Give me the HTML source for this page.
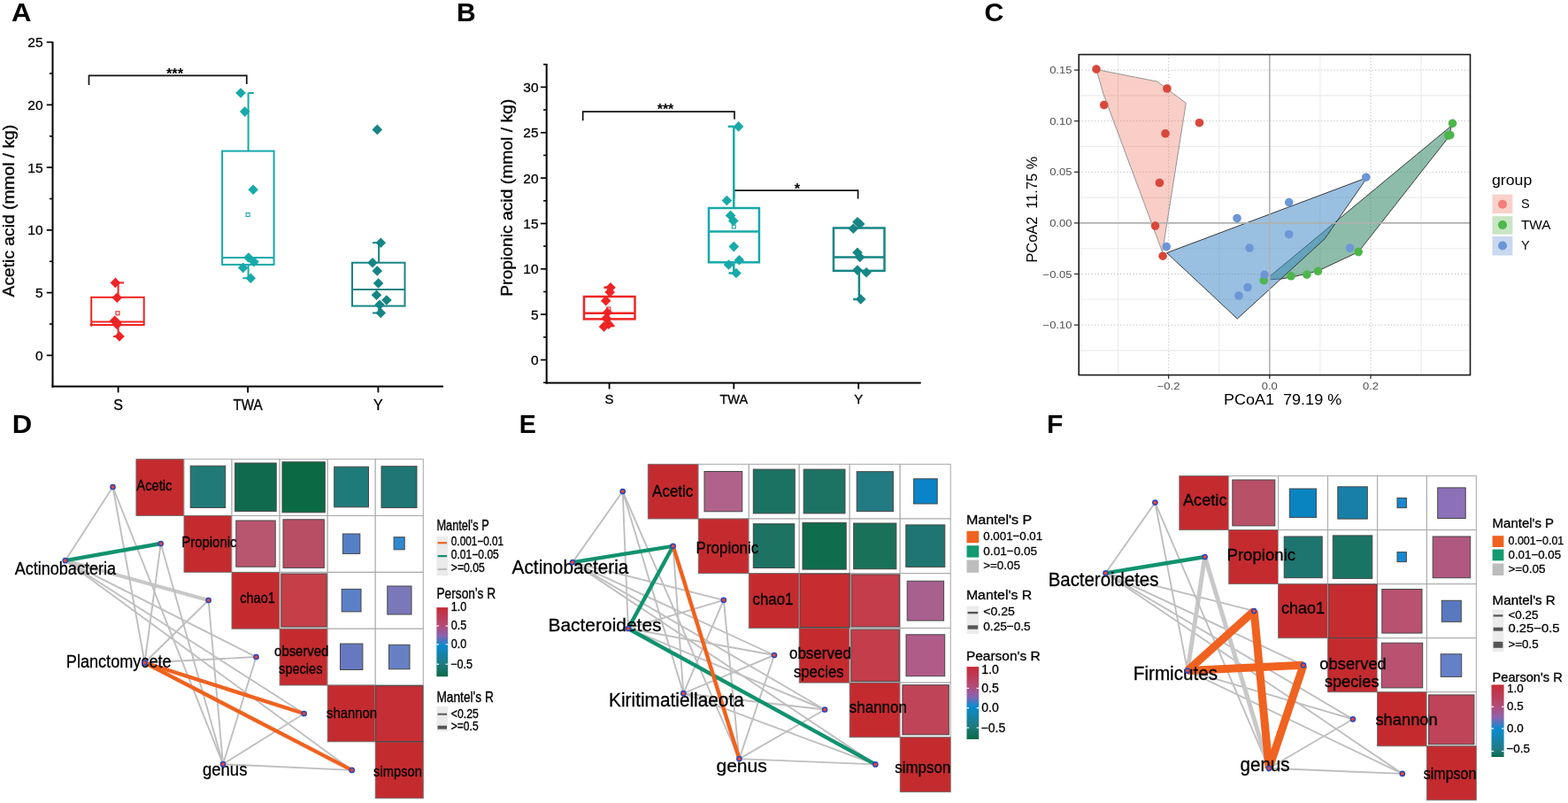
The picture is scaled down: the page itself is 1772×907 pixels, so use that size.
<!DOCTYPE html>
<html><head><meta charset="utf-8"><title>Figure</title>
<style>
html,body{margin:0;padding:0;background:#fff;}
svg{display:block;}
text{font-family:"Liberation Sans", sans-serif;white-space:pre;stroke:#000;stroke-width:0.3px;}
</style></head><body>
<svg width="1772" height="907" viewBox="0 0 1772 907">
<rect width="1772" height="907" fill="#fff"/>
<text transform="translate(12.9,23.7)" font-weight="bold" style="stroke:none" font-size="29.7" textLength="22.5" lengthAdjust="spacingAndGlyphs">A</text>
<text transform="translate(515.9,23.5)" font-weight="bold" style="stroke:none" font-size="29.4" textLength="21.7" lengthAdjust="spacingAndGlyphs">B</text>
<text transform="translate(1112.6,23.8)" font-weight="bold" style="stroke:none" font-size="30.4" textLength="21.8" lengthAdjust="spacingAndGlyphs">C</text>
<text transform="translate(13.8,489.4)" font-weight="bold" style="stroke:none" font-size="29.7" textLength="22.5" lengthAdjust="spacingAndGlyphs">D</text>
<text transform="translate(586.8,489.4)" font-weight="bold" style="stroke:none" font-size="29.7" textLength="19.1" lengthAdjust="spacingAndGlyphs">E</text>
<text transform="translate(1183,489.4)" font-weight="bold" style="stroke:none" font-size="29.7" textLength="18.3" lengthAdjust="spacingAndGlyphs">F</text>
<line x1="59.5" y1="47" x2="59.5" y2="437.4" stroke="#000" stroke-width="2"/>
<line x1="58.5" y1="436.4" x2="501" y2="436.4" stroke="#000" stroke-width="2"/>
<line x1="52.7" y1="401.4" x2="59.5" y2="401.4" stroke="#000" stroke-width="1.7"/>
<text transform="translate(48.6,406.8)" text-anchor="end" font-size="15.5">0</text>
<line x1="52.7" y1="330.6" x2="59.5" y2="330.6" stroke="#000" stroke-width="1.7"/>
<text transform="translate(48.6,336)" text-anchor="end" font-size="15.5">5</text>
<line x1="52.7" y1="259.9" x2="59.5" y2="259.9" stroke="#000" stroke-width="1.7"/>
<text transform="translate(48.6,265.3)" text-anchor="end" font-size="15.5">10</text>
<line x1="52.7" y1="189.1" x2="59.5" y2="189.1" stroke="#000" stroke-width="1.7"/>
<text transform="translate(48.6,194.5)" text-anchor="end" font-size="15.5">15</text>
<line x1="52.7" y1="118.4" x2="59.5" y2="118.4" stroke="#000" stroke-width="1.7"/>
<text transform="translate(48.6,123.8)" text-anchor="end" font-size="15.5">20</text>
<line x1="52.7" y1="47.6" x2="59.5" y2="47.6" stroke="#000" stroke-width="1.7"/>
<text transform="translate(48.6,53)" text-anchor="end" font-size="15.5">25</text>
<line x1="55.9" y1="366" x2="59.5" y2="366" stroke="#000" stroke-width="1.6"/>
<line x1="55.9" y1="295.3" x2="59.5" y2="295.3" stroke="#000" stroke-width="1.6"/>
<line x1="55.9" y1="224.5" x2="59.5" y2="224.5" stroke="#000" stroke-width="1.6"/>
<line x1="55.9" y1="153.8" x2="59.5" y2="153.8" stroke="#000" stroke-width="1.6"/>
<line x1="55.9" y1="83" x2="59.5" y2="83" stroke="#000" stroke-width="1.6"/>
<line x1="133.6" y1="436.4" x2="133.6" y2="443.4" stroke="#000" stroke-width="1.8"/>
<text transform="translate(133.6,462.7)" text-anchor="middle" font-size="16">S</text>
<line x1="280.1" y1="436.4" x2="280.1" y2="443.4" stroke="#000" stroke-width="1.8"/>
<text transform="translate(280.1,462.7)" text-anchor="middle" font-size="16" textLength="33.2" lengthAdjust="spacingAndGlyphs">TWA</text>
<line x1="427.4" y1="436.4" x2="427.4" y2="443.4" stroke="#000" stroke-width="1.8"/>
<text transform="translate(427.4,462.7)" text-anchor="middle" font-size="16">Y</text>
<text transform="translate(15.6,335.4) rotate(-90)" font-size="17.6" textLength="194.6" lengthAdjust="spacingAndGlyphs">Acetic acid (mmol / kg)</text>
<path d="M100.5 96V85.3H278.8V95" fill="none" stroke="#111" stroke-width="1.7"/>
<text transform="translate(197.5,89.2)" text-anchor="middle" font-weight="bold" style="stroke:none" font-size="16.5" textLength="19.2" lengthAdjust="spacingAndGlyphs">***</text>
<rect x="103.2" y="335.8" width="59.5" height="31.2" fill="none" stroke="#ef2424" stroke-width="2"/>
<line x1="103.2" y1="363.6" x2="162.7" y2="363.6" stroke="#ef2424" stroke-width="2"/>
<line x1="133.6" y1="335.8" x2="133.6" y2="319.4" stroke="#ef2424" stroke-width="2"/>
<line x1="133.6" y1="367" x2="133.6" y2="380" stroke="#ef2424" stroke-width="2"/>
<line x1="133.6" y1="319.4" x2="140" y2="319.4" stroke="#ef2424" stroke-width="2"/>
<line x1="128" y1="380" x2="133.6" y2="380" stroke="#ef2424" stroke-width="2"/>
<path d="M130.4 313.6L136.2 319.4L130.4 325.2L124.6 319.4Z" fill="#ef2424"/>
<path d="M132.3 330.5L138.1 336.3L132.3 342.1L126.5 336.3Z" fill="#ef2424"/>
<path d="M129.6 356.5L135.4 362.3L129.6 368.1L123.8 362.3Z" fill="#ef2424"/>
<path d="M131.6 358.4L137.4 364.2L131.6 370L125.8 364.2Z" fill="#ef2424"/>
<path d="M132.3 360.6L138.1 366.4L132.3 372.2L126.5 366.4Z" fill="#ef2424"/>
<path d="M135 374.2L140.8 380L135 385.8L129.2 380Z" fill="#ef2424"/>
<rect x="131" y="351.8" width="4" height="4" fill="none" stroke="#ef2424" stroke-width="1.1"/>
<circle cx="103.3" cy="367" r="1.8" fill="#ef2424"/>
<rect x="251.1" y="170.6" width="58.5" height="128.3" fill="none" stroke="#17a9a9" stroke-width="2"/>
<line x1="251.1" y1="291" x2="309.6" y2="291" stroke="#17a9a9" stroke-width="2"/>
<line x1="280.6" y1="170.6" x2="280.6" y2="105" stroke="#17a9a9" stroke-width="2"/>
<line x1="280.6" y1="298.9" x2="280.6" y2="314.2" stroke="#17a9a9" stroke-width="2"/>
<line x1="280.6" y1="105" x2="286.8" y2="105" stroke="#17a9a9" stroke-width="2"/>
<line x1="274.4" y1="314.2" x2="280.6" y2="314.2" stroke="#17a9a9" stroke-width="2"/>
<path d="M272 99.2L277.8 105L272 110.8L266.2 105Z" fill="#17a9a9"/>
<path d="M276.7 120.3L282.5 126.1L276.7 131.9L270.9 126.1Z" fill="#17a9a9"/>
<path d="M286.1 208.5L291.9 214.3L286.1 220.1L280.3 214.3Z" fill="#17a9a9"/>
<path d="M280.9 285.2L286.7 291L280.9 296.8L275.1 291Z" fill="#17a9a9"/>
<path d="M287 289.9L292.8 295.7L287 301.5L281.2 295.7Z" fill="#17a9a9"/>
<path d="M274.7 296.6L280.5 302.4L274.7 308.2L268.9 302.4Z" fill="#17a9a9"/>
<path d="M283.3 308.4L289.1 314.2L283.3 320L277.5 314.2Z" fill="#17a9a9"/>
<rect x="278.1" y="240.5" width="4" height="4" fill="none" stroke="#17a9a9" stroke-width="1.1"/>
<rect x="398" y="296.7" width="59.5" height="48.9" fill="none" stroke="#178585" stroke-width="2"/>
<line x1="398" y1="327.1" x2="457.5" y2="327.1" stroke="#178585" stroke-width="2"/>
<line x1="428.1" y1="296.7" x2="428.1" y2="274.2" stroke="#178585" stroke-width="2"/>
<line x1="428.1" y1="345.6" x2="428.1" y2="353.5" stroke="#178585" stroke-width="2"/>
<line x1="421" y1="274.2" x2="428.1" y2="274.2" stroke="#178585" stroke-width="2"/>
<line x1="421" y1="353.5" x2="428.1" y2="353.5" stroke="#178585" stroke-width="2"/>
<path d="M426.3 140.6L432.1 146.4L426.3 152.2L420.5 146.4Z" fill="#178585"/>
<path d="M430.3 268.4L436.1 274.2L430.3 280L424.5 274.2Z" fill="#178585"/>
<path d="M421 290.9L426.8 296.7L421 302.5L415.2 296.7Z" fill="#178585"/>
<path d="M426.3 300.2L432.1 306L426.3 311.8L420.5 306Z" fill="#178585"/>
<path d="M427.6 314.2L433.4 320L427.6 325.8L421.8 320Z" fill="#178585"/>
<path d="M425.5 327.4L431.3 333.2L425.5 339L419.7 333.2Z" fill="#178585"/>
<path d="M436.9 333.2L442.7 339L436.9 344.8L431.1 339Z" fill="#178585"/>
<path d="M429 338.5L434.8 344.3L429 350.1L423.2 344.3Z" fill="#178585"/>
<path d="M430.3 347.7L436.1 353.5L430.3 359.3L424.5 353.5Z" fill="#178585"/>
<line x1="617.7" y1="72" x2="617.7" y2="433.4" stroke="#000" stroke-width="2"/>
<line x1="616.7" y1="432.4" x2="1040.7" y2="432.4" stroke="#000" stroke-width="2"/>
<line x1="610.9" y1="406.5" x2="617.7" y2="406.5" stroke="#000" stroke-width="1.7"/>
<text transform="translate(608.6,411.9)" text-anchor="end" font-size="15.5">0</text>
<line x1="610.9" y1="355.1" x2="617.7" y2="355.1" stroke="#000" stroke-width="1.7"/>
<text transform="translate(608.6,360.5)" text-anchor="end" font-size="15.5">5</text>
<line x1="610.9" y1="303.8" x2="617.7" y2="303.8" stroke="#000" stroke-width="1.7"/>
<text transform="translate(608.6,309.2)" text-anchor="end" font-size="15.5">10</text>
<line x1="610.9" y1="252.5" x2="617.7" y2="252.5" stroke="#000" stroke-width="1.7"/>
<text transform="translate(608.6,257.9)" text-anchor="end" font-size="15.5">15</text>
<line x1="610.9" y1="201.1" x2="617.7" y2="201.1" stroke="#000" stroke-width="1.7"/>
<text transform="translate(608.6,206.5)" text-anchor="end" font-size="15.5">20</text>
<line x1="610.9" y1="149.8" x2="617.7" y2="149.8" stroke="#000" stroke-width="1.7"/>
<text transform="translate(608.6,155.2)" text-anchor="end" font-size="15.5">25</text>
<line x1="610.9" y1="98.4" x2="617.7" y2="98.4" stroke="#000" stroke-width="1.7"/>
<text transform="translate(608.6,103.8)" text-anchor="end" font-size="15.5">30</text>
<line x1="614.1" y1="432.2" x2="617.7" y2="432.2" stroke="#000" stroke-width="1.6"/>
<line x1="614.1" y1="380.8" x2="617.7" y2="380.8" stroke="#000" stroke-width="1.6"/>
<line x1="614.1" y1="329.5" x2="617.7" y2="329.5" stroke="#000" stroke-width="1.6"/>
<line x1="614.1" y1="278.1" x2="617.7" y2="278.1" stroke="#000" stroke-width="1.6"/>
<line x1="614.1" y1="226.8" x2="617.7" y2="226.8" stroke="#000" stroke-width="1.6"/>
<line x1="614.1" y1="175.4" x2="617.7" y2="175.4" stroke="#000" stroke-width="1.6"/>
<line x1="614.1" y1="124.1" x2="617.7" y2="124.1" stroke="#000" stroke-width="1.6"/>
<line x1="614.1" y1="72.7" x2="617.7" y2="72.7" stroke="#000" stroke-width="1.6"/>
<line x1="688.6" y1="432.4" x2="688.6" y2="439.4" stroke="#000" stroke-width="1.8"/>
<text transform="translate(688.6,456.1)" text-anchor="middle" font-size="15">S</text>
<line x1="829.3" y1="432.4" x2="829.3" y2="439.4" stroke="#000" stroke-width="1.8"/>
<text transform="translate(829.3,456.1)" text-anchor="middle" font-size="15" textLength="31.8" lengthAdjust="spacingAndGlyphs">TWA</text>
<line x1="970.2" y1="432.4" x2="970.2" y2="439.4" stroke="#000" stroke-width="1.8"/>
<text transform="translate(970.2,456.1)" text-anchor="middle" font-size="15">Y</text>
<text transform="translate(579,334.8) rotate(-90)" font-size="18.4" textLength="223" lengthAdjust="spacingAndGlyphs">Propionic acid (mmol / kg)</text>
<path d="M658.7 136.2V126.1H830V134.8" fill="none" stroke="#111" stroke-width="1.7"/>
<path d="M829.5 224.4V215.2H969.6V224.4" fill="none" stroke="#111" stroke-width="1.7"/>
<text transform="translate(752,129.2)" text-anchor="middle" font-weight="bold" style="stroke:none" font-size="16.5" textLength="18.7" lengthAdjust="spacingAndGlyphs">***</text>
<text transform="translate(901,218.5)" text-anchor="middle" font-weight="bold" style="stroke:none" font-size="16.5">*</text>
<rect x="660" y="335" width="57.5" height="25.4" fill="none" stroke="#ef2424" stroke-width="2.5"/>
<line x1="660" y1="353.8" x2="717.5" y2="353.8" stroke="#ef2424" stroke-width="2.5"/>
<line x1="688.6" y1="335" x2="688.6" y2="324.7" stroke="#ef2424" stroke-width="2.5"/>
<line x1="688.6" y1="360.4" x2="688.6" y2="368.1" stroke="#ef2424" stroke-width="2.5"/>
<line x1="682.5" y1="324.7" x2="688.6" y2="324.7" stroke="#ef2424" stroke-width="2.5"/>
<line x1="688.6" y1="368.1" x2="694.5" y2="368.1" stroke="#ef2424" stroke-width="2.5"/>
<path d="M690 318.9L695.8 324.7L690 330.5L684.2 324.7Z" fill="#ef2424"/>
<path d="M689.2 324.2L695 330L689.2 335.8L683.4 330Z" fill="#ef2424"/>
<path d="M684.7 334L690.5 339.8L684.7 345.6L678.9 339.8Z" fill="#ef2424"/>
<path d="M686.5 347.2L692.3 353L686.5 358.8L680.7 353Z" fill="#ef2424"/>
<path d="M685.2 353.8L691 359.6L685.2 365.4L679.4 359.6Z" fill="#ef2424"/>
<path d="M687.8 360.4L693.6 366.2L687.8 372L682 366.2Z" fill="#ef2424"/>
<path d="M682.5 363.1L688.3 368.9L682.5 374.7L676.7 368.9Z" fill="#ef2424"/>
<rect x="685.8" y="347" width="4" height="4" fill="none" stroke="#ef2424" stroke-width="1.1"/>
<rect x="801" y="235" width="56.9" height="61.3" fill="none" stroke="#17a9a9" stroke-width="2.5"/>
<line x1="801" y1="261.4" x2="857.9" y2="261.4" stroke="#17a9a9" stroke-width="2.5"/>
<line x1="829.3" y1="235" x2="829.3" y2="142.9" stroke="#17a9a9" stroke-width="2.5"/>
<line x1="829.3" y1="296.3" x2="829.3" y2="308.5" stroke="#17a9a9" stroke-width="2.5"/>
<line x1="822.7" y1="142.9" x2="829.3" y2="142.9" stroke="#17a9a9" stroke-width="2.5"/>
<line x1="823.5" y1="308.5" x2="830" y2="308.5" stroke="#17a9a9" stroke-width="2.5"/>
<path d="M834.6 137.1L840.4 142.9L834.6 148.7L828.8 142.9Z" fill="#17a9a9"/>
<path d="M821.4 220.7L827.2 226.5L821.4 232.3L815.6 226.5Z" fill="#17a9a9"/>
<path d="M825.6 237.6L831.4 243.4L825.6 249.2L819.8 243.4Z" fill="#17a9a9"/>
<path d="M828.8 243.7L834.6 249.5L828.8 255.3L823 249.5Z" fill="#17a9a9"/>
<path d="M829.3 272.8L835.1 278.6L829.3 284.4L823.5 278.6Z" fill="#17a9a9"/>
<path d="M835.4 287.9L841.2 293.7L835.4 299.5L829.6 293.7Z" fill="#17a9a9"/>
<path d="M823.5 293.2L829.3 299L823.5 304.8L817.7 299Z" fill="#17a9a9"/>
<path d="M832 302.7L837.8 308.5L832 314.3L826.2 308.5Z" fill="#17a9a9"/>
<rect x="827.3" y="254.1" width="4" height="4" fill="none" stroke="#17a9a9" stroke-width="1.1"/>
<rect x="942" y="257.5" width="57.5" height="48.4" fill="none" stroke="#178585" stroke-width="2.5"/>
<line x1="942" y1="290.5" x2="999.5" y2="290.5" stroke="#178585" stroke-width="2.5"/>
<line x1="970.9" y1="257.5" x2="970.9" y2="250.8" stroke="#178585" stroke-width="2.5"/>
<line x1="970.9" y1="305.9" x2="970.9" y2="338" stroke="#178585" stroke-width="2.5"/>
<line x1="964.2" y1="338" x2="970.9" y2="338" stroke="#178585" stroke-width="2.5"/>
<path d="M969 245L974.8 250.8L969 256.6L963.2 250.8Z" fill="#178585"/>
<path d="M971.7 247.2L977.5 253L971.7 258.8L965.9 253Z" fill="#178585"/>
<path d="M964.3 252.4L970.1 258.2L964.3 264L958.5 258.2Z" fill="#178585"/>
<path d="M969 279.4L974.8 285.2L969 291L963.2 285.2Z" fill="#178585"/>
<path d="M971.7 284.7L977.5 290.5L971.7 296.3L965.9 290.5Z" fill="#178585"/>
<path d="M969 299.3L974.8 305.1L969 310.9L963.2 305.1Z" fill="#178585"/>
<path d="M979.1 301.9L984.9 307.7L979.1 313.5L973.3 307.7Z" fill="#178585"/>
<path d="M972.7 332.2L978.5 338L972.7 343.8L966.9 338Z" fill="#178585"/>
<line x1="1263.5" y1="61.6" x2="1263.5" y2="423.6" stroke="#ebebeb" stroke-width="1.1"/>
<line x1="1377.8" y1="61.6" x2="1377.8" y2="423.6" stroke="#ebebeb" stroke-width="1.1"/>
<line x1="1491.9" y1="61.6" x2="1491.9" y2="423.6" stroke="#ebebeb" stroke-width="1.1"/>
<line x1="1606.1" y1="61.6" x2="1606.1" y2="423.6" stroke="#ebebeb" stroke-width="1.1"/>
<line x1="1219.2" y1="395.9" x2="1661.5" y2="395.9" stroke="#ebebeb" stroke-width="1.1"/>
<line x1="1219.2" y1="338.3" x2="1661.5" y2="338.3" stroke="#ebebeb" stroke-width="1.1"/>
<line x1="1219.2" y1="280.7" x2="1661.5" y2="280.7" stroke="#ebebeb" stroke-width="1.1"/>
<line x1="1219.2" y1="223.1" x2="1661.5" y2="223.1" stroke="#ebebeb" stroke-width="1.1"/>
<line x1="1219.2" y1="165.5" x2="1661.5" y2="165.5" stroke="#ebebeb" stroke-width="1.1"/>
<line x1="1219.2" y1="107.9" x2="1661.5" y2="107.9" stroke="#ebebeb" stroke-width="1.1"/>
<line x1="1320.6" y1="61.6" x2="1320.6" y2="423.6" stroke="#cdcdcd" stroke-width="1.3" stroke-dasharray="1.3 2.3"/>
<line x1="1549" y1="61.6" x2="1549" y2="423.6" stroke="#cdcdcd" stroke-width="1.3" stroke-dasharray="1.3 2.3"/>
<line x1="1219.2" y1="367.1" x2="1661.5" y2="367.1" stroke="#cdcdcd" stroke-width="1.3" stroke-dasharray="1.3 2.3"/>
<line x1="1219.2" y1="309.5" x2="1661.5" y2="309.5" stroke="#cdcdcd" stroke-width="1.3" stroke-dasharray="1.3 2.3"/>
<line x1="1219.2" y1="194.3" x2="1661.5" y2="194.3" stroke="#cdcdcd" stroke-width="1.3" stroke-dasharray="1.3 2.3"/>
<line x1="1219.2" y1="136.7" x2="1661.5" y2="136.7" stroke="#cdcdcd" stroke-width="1.3" stroke-dasharray="1.3 2.3"/>
<line x1="1219.2" y1="79.1" x2="1661.5" y2="79.1" stroke="#cdcdcd" stroke-width="1.3" stroke-dasharray="1.3 2.3"/>
<polygon points="1239,78.5 1307.8,92.1 1340.3,116.5 1313.6,284.5 1246.9,105.9" fill="rgba(236,105,86,0.33)" stroke="#8a8a8a" stroke-width="0.9" stroke-linejoin="round"/>
<polygon points="1640.7,141.7 1636.5,155.5 1535.1,284.6 1489.4,306 1464.1,312.1 1448.7,314.9 1435.5,315.8 1434.5,312.5" fill="rgba(40,130,95,0.53)" stroke="#3a3a3a" stroke-width="1" stroke-linejoin="round"/>
<polygon points="1318.6,285.6 1544.8,200.7 1497.2,269.7 1398.3,360" fill="rgba(70,140,200,0.55)" stroke="#3a3a3a" stroke-width="1" stroke-linejoin="round"/>
<line x1="1434.8" y1="61.6" x2="1434.8" y2="423.6" stroke="#b0b0b0" stroke-width="1.6"/>
<line x1="1219.2" y1="251.9" x2="1661.5" y2="251.9" stroke="#b0b0b0" stroke-width="1.6"/>
<circle cx="1239" cy="78.1" r="4.8" fill="#d9473a"/>
<circle cx="1247.7" cy="118.6" r="4.8" fill="#d9473a"/>
<circle cx="1318.9" cy="100" r="4.8" fill="#d9473a"/>
<circle cx="1355.4" cy="138.7" r="4.8" fill="#d9473a"/>
<circle cx="1317" cy="150.9" r="4.8" fill="#d9473a"/>
<circle cx="1310.4" cy="206.5" r="4.8" fill="#d9473a"/>
<circle cx="1305.5" cy="255.1" r="4.8" fill="#d9473a"/>
<circle cx="1314.1" cy="289.2" r="4.8" fill="#d9473a"/>
<circle cx="1641.5" cy="139.4" r="4.8" fill="#4db64b"/>
<circle cx="1636.7" cy="153" r="4.8" fill="#4db64b"/>
<circle cx="1638.8" cy="152.5" r="4.8" fill="#4db64b"/>
<circle cx="1535.2" cy="284.6" r="4.8" fill="#4db64b"/>
<circle cx="1489.4" cy="306.3" r="4.8" fill="#4db64b"/>
<circle cx="1476.9" cy="310.2" r="4.8" fill="#4db64b"/>
<circle cx="1459" cy="311.8" r="4.8" fill="#4db64b"/>
<circle cx="1428.3" cy="316.7" r="4.8" fill="#4db64b"/>
<circle cx="1318.2" cy="278.6" r="4.8" fill="#6c96d6"/>
<circle cx="1398" cy="246.5" r="4.8" fill="#6c96d6"/>
<circle cx="1412.1" cy="280.1" r="4.8" fill="#6c96d6"/>
<circle cx="1456.7" cy="228.6" r="4.8" fill="#6c96d6"/>
<circle cx="1456.7" cy="264.7" r="4.8" fill="#6c96d6"/>
<circle cx="1429" cy="310.3" r="4.8" fill="#6c96d6"/>
<circle cx="1410" cy="324.5" r="4.8" fill="#6c96d6"/>
<circle cx="1399.9" cy="334" r="4.8" fill="#6c96d6"/>
<circle cx="1525.5" cy="280.1" r="4.8" fill="#6c96d6"/>
<circle cx="1543.8" cy="200.2" r="4.8" fill="#6c96d6"/>
<rect x="1219.2" y="61.6" width="442.3" height="362" fill="none" stroke="#1a1a1a" stroke-width="1.6"/>
<line x1="1214" y1="79.1" x2="1219.2" y2="79.1" stroke="#333" stroke-width="1.3"/>
<text transform="translate(1211.4,83.2) scale(1.120,1.000)" text-anchor="end" style="fill:#4d4d4d;stroke:none" font-size="11.6">0.15</text>
<line x1="1214" y1="136.7" x2="1219.2" y2="136.7" stroke="#333" stroke-width="1.3"/>
<text transform="translate(1211.4,140.8) scale(1.120,1.000)" text-anchor="end" style="fill:#4d4d4d;stroke:none" font-size="11.6">0.10</text>
<line x1="1214" y1="194.3" x2="1219.2" y2="194.3" stroke="#333" stroke-width="1.3"/>
<text transform="translate(1211.4,198.4) scale(1.120,1.000)" text-anchor="end" style="fill:#4d4d4d;stroke:none" font-size="11.6">0.05</text>
<line x1="1214" y1="251.9" x2="1219.2" y2="251.9" stroke="#333" stroke-width="1.3"/>
<text transform="translate(1211.4,256) scale(1.120,1.000)" text-anchor="end" style="fill:#4d4d4d;stroke:none" font-size="11.6">0.00</text>
<line x1="1214" y1="309.5" x2="1219.2" y2="309.5" stroke="#333" stroke-width="1.3"/>
<text transform="translate(1211.4,313.6) scale(1.120,1.000)" text-anchor="end" style="fill:#4d4d4d;stroke:none" font-size="11.6">−0.05</text>
<line x1="1214" y1="367.1" x2="1219.2" y2="367.1" stroke="#333" stroke-width="1.3"/>
<text transform="translate(1211.4,371.2) scale(1.120,1.000)" text-anchor="end" style="fill:#4d4d4d;stroke:none" font-size="11.6">−0.10</text>
<line x1="1320.6" y1="423.6" x2="1320.6" y2="427.8" stroke="#333" stroke-width="1.3"/>
<text transform="translate(1320.6,439.8) scale(1.120,1.000)" text-anchor="middle" style="fill:#4d4d4d;stroke:none" font-size="11.6">−0.2</text>
<line x1="1434.8" y1="423.6" x2="1434.8" y2="427.8" stroke="#333" stroke-width="1.3"/>
<text transform="translate(1434.8,439.8) scale(1.120,1.000)" text-anchor="middle" style="fill:#4d4d4d;stroke:none" font-size="11.6">0.0</text>
<line x1="1549" y1="423.6" x2="1549" y2="427.8" stroke="#333" stroke-width="1.3"/>
<text transform="translate(1549,439.8) scale(1.120,1.000)" text-anchor="middle" style="fill:#4d4d4d;stroke:none" font-size="11.6">0.2</text>
<text transform="translate(1382.9,456.6)" style="stroke:none" font-size="16.4" textLength="133.3" lengthAdjust="spacingAndGlyphs">PCoA1  79.19 %</text>
<text transform="translate(1172.3,296.6) rotate(-90)" style="stroke:none" font-size="16.6" textLength="119.8" lengthAdjust="spacingAndGlyphs">PCoA2  11.75 %</text>
<text transform="translate(1685.9,208.8)" style="stroke:none" font-size="17.3" textLength="45.4" lengthAdjust="spacingAndGlyphs">group</text>
<rect x="1686.5" y="219.7" width="22.9" height="21.4" fill="#f9d0ca"/>
<circle cx="1698" cy="230.7" r="5" fill="#ef7f78"/>
<text transform="translate(1718.9,234.9)" style="stroke:none" font-size="14.6">S</text>
<rect x="1686.5" y="244.2" width="22.9" height="20.5" fill="#c8e5c4"/>
<circle cx="1698" cy="254.1" r="5" fill="#4db94d"/>
<text transform="translate(1718.9,258.7)" style="stroke:none" font-size="14.6" textLength="33.6" lengthAdjust="spacingAndGlyphs">TWA</text>
<rect x="1686.5" y="267" width="22.9" height="21.5" fill="#c9d7ef"/>
<circle cx="1698" cy="277.5" r="5" fill="#6b97d7"/>
<text transform="translate(1718.9,281.9)" style="stroke:none" font-size="14.6">Y</text>
<rect x="153.9" y="518.7" width="54.1" height="63.8" fill="#c42b2f" stroke="#6e6e6e" stroke-width="0.9"/>
<rect x="208" y="518.7" width="54.1" height="63.8" fill="#ffffff" stroke="#a6a6a6" stroke-width="1"/>
<rect x="262" y="518.7" width="54.1" height="63.8" fill="#ffffff" stroke="#a6a6a6" stroke-width="1"/>
<rect x="316.1" y="518.7" width="54.1" height="63.8" fill="#ffffff" stroke="#a6a6a6" stroke-width="1"/>
<rect x="370.2" y="518.7" width="54.1" height="63.8" fill="#ffffff" stroke="#a6a6a6" stroke-width="1"/>
<rect x="424.2" y="518.7" width="54.1" height="63.8" fill="#ffffff" stroke="#a6a6a6" stroke-width="1"/>
<rect x="208" y="582.5" width="54.1" height="63.8" fill="#c42b2f" stroke="#6e6e6e" stroke-width="0.9"/>
<rect x="262" y="582.5" width="54.1" height="63.8" fill="#ffffff" stroke="#a6a6a6" stroke-width="1"/>
<rect x="316.1" y="582.5" width="54.1" height="63.8" fill="#ffffff" stroke="#a6a6a6" stroke-width="1"/>
<rect x="370.2" y="582.5" width="54.1" height="63.8" fill="#ffffff" stroke="#a6a6a6" stroke-width="1"/>
<rect x="424.2" y="582.5" width="54.1" height="63.8" fill="#ffffff" stroke="#a6a6a6" stroke-width="1"/>
<rect x="262" y="646.4" width="54.1" height="63.8" fill="#c42b2f" stroke="#6e6e6e" stroke-width="0.9"/>
<rect x="316.1" y="646.4" width="54.1" height="63.8" fill="#ffffff" stroke="#a6a6a6" stroke-width="1"/>
<rect x="370.2" y="646.4" width="54.1" height="63.8" fill="#ffffff" stroke="#a6a6a6" stroke-width="1"/>
<rect x="424.2" y="646.4" width="54.1" height="63.8" fill="#ffffff" stroke="#a6a6a6" stroke-width="1"/>
<rect x="316.1" y="710.2" width="54.1" height="63.8" fill="#c42b2f" stroke="#6e6e6e" stroke-width="0.9"/>
<rect x="370.2" y="710.2" width="54.1" height="63.8" fill="#ffffff" stroke="#a6a6a6" stroke-width="1"/>
<rect x="424.2" y="710.2" width="54.1" height="63.8" fill="#ffffff" stroke="#a6a6a6" stroke-width="1"/>
<rect x="370.2" y="774" width="54.1" height="63.8" fill="#c42b2f" stroke="#6e6e6e" stroke-width="0.9"/>
<rect x="424.2" y="774" width="54.1" height="63.8" fill="#ffffff" stroke="#a6a6a6" stroke-width="1"/>
<rect x="424.2" y="837.9" width="54.1" height="63.8" fill="#c42b2f" stroke="#6e6e6e" stroke-width="0.9"/>
<rect x="215.2" y="526.2" width="39.5" height="47.3" fill="#217a78" stroke="#474747" stroke-width="1"/>
<rect x="265.6" y="523" width="46.6" height="54.6" fill="#106b4e" stroke="#474747" stroke-width="1"/>
<rect x="319" y="521.8" width="48.3" height="57" fill="#0b6a43" stroke="#474747" stroke-width="1"/>
<rect x="377.7" y="527.2" width="38.8" height="45.6" fill="#1f7a7a" stroke="#474747" stroke-width="1"/>
<rect x="431" y="526.7" width="40" height="46.8" fill="#1f7674" stroke="#474747" stroke-width="1"/>
<rect x="266.8" y="588" width="44.4" height="52.2" fill="#b9566f" stroke="#474747" stroke-width="1"/>
<rect x="320" y="586.8" width="46.3" height="54.6" fill="#b84e64" stroke="#474747" stroke-width="1"/>
<rect x="387.4" y="603" width="19.4" height="22.4" fill="#5580c8" stroke="#474747" stroke-width="1"/>
<rect x="445.1" y="606.7" width="12.1" height="14.1" fill="#2e88d0" stroke="#474747" stroke-width="1"/>
<rect x="317.8" y="648" width="51.4" height="60.1" fill="#c63e48" stroke="#474747" stroke-width="1"/>
<rect x="386.2" y="665.4" width="21.8" height="25.5" fill="#5a80c8" stroke="#474747" stroke-width="1"/>
<rect x="437.8" y="662" width="27.2" height="32" fill="#7a78b8" stroke="#474747" stroke-width="1"/>
<rect x="384.5" y="727.1" width="25.4" height="29.4" fill="#6679c0" stroke="#474747" stroke-width="1"/>
<rect x="439.5" y="728.3" width="23.5" height="27.5" fill="#6680c4" stroke="#474747" stroke-width="1"/>
<rect x="424.6" y="774.6" width="53.3" height="63" fill="#c42e34" stroke="#474747" stroke-width="1"/>
<text transform="translate(154.3,553.8)" font-size="16.6" textLength="40.2" lengthAdjust="spacingAndGlyphs">Acetic</text>
<text transform="translate(205.2,617.6)" font-size="16.6" textLength="62.3" lengthAdjust="spacingAndGlyphs">Propionic</text>
<text transform="translate(271.3,681.4)" font-size="16.6" textLength="39.5" lengthAdjust="spacingAndGlyphs">chao1</text>
<text transform="translate(310.1,741.4)" font-size="16.6" textLength="61.3" lengthAdjust="spacingAndGlyphs">observed</text>
<text transform="translate(315.1,761.3)" font-size="16.6" textLength="49.4" lengthAdjust="spacingAndGlyphs">species</text>
<text transform="translate(369,810.8)" font-size="16.6" textLength="57" lengthAdjust="spacingAndGlyphs">shannon</text>
<text transform="translate(422.1,877.3)" font-size="16.6" textLength="54.8" lengthAdjust="spacingAndGlyphs">simpson</text>
<line x1="73.8" y1="633.2" x2="127.5" y2="550" stroke="#bfbfbf" stroke-width="1.9" stroke-linecap="round"/>
<line x1="73.8" y1="633.2" x2="235.6" y2="678" stroke="#c8c8c8" stroke-width="4" stroke-linecap="round"/>
<line x1="73.8" y1="633.2" x2="289.5" y2="742" stroke="#bfbfbf" stroke-width="1.9" stroke-linecap="round"/>
<line x1="73.8" y1="633.2" x2="343.6" y2="806" stroke="#bfbfbf" stroke-width="1.9" stroke-linecap="round"/>
<line x1="73.8" y1="633.2" x2="397.7" y2="869.9" stroke="#bfbfbf" stroke-width="1.9" stroke-linecap="round"/>
<line x1="163.5" y1="748.5" x2="127.5" y2="550" stroke="#bfbfbf" stroke-width="1.9" stroke-linecap="round"/>
<line x1="163.5" y1="748.5" x2="181.7" y2="614" stroke="#bfbfbf" stroke-width="1.9" stroke-linecap="round"/>
<line x1="163.5" y1="748.5" x2="235.6" y2="678" stroke="#bfbfbf" stroke-width="1.9" stroke-linecap="round"/>
<line x1="163.5" y1="748.5" x2="289.5" y2="742" stroke="#bfbfbf" stroke-width="1.9" stroke-linecap="round"/>
<line x1="252" y1="863.2" x2="127.5" y2="550" stroke="#bfbfbf" stroke-width="1.9" stroke-linecap="round"/>
<line x1="252" y1="863.2" x2="181.7" y2="614" stroke="#bfbfbf" stroke-width="1.9" stroke-linecap="round"/>
<line x1="252" y1="863.2" x2="235.6" y2="678" stroke="#bfbfbf" stroke-width="1.9" stroke-linecap="round"/>
<line x1="252" y1="863.2" x2="289.5" y2="742" stroke="#bfbfbf" stroke-width="1.9" stroke-linecap="round"/>
<line x1="252" y1="863.2" x2="343.6" y2="806" stroke="#bfbfbf" stroke-width="1.9" stroke-linecap="round"/>
<line x1="252" y1="863.2" x2="397.7" y2="869.9" stroke="#bfbfbf" stroke-width="1.9" stroke-linecap="round"/>
<line x1="73.8" y1="633.2" x2="181.7" y2="614" stroke="#11926f" stroke-width="4.4" stroke-linecap="butt"/>
<line x1="163.5" y1="748.5" x2="343.6" y2="806" stroke="#f0621f" stroke-width="4.4" stroke-linecap="butt"/>
<line x1="163.5" y1="748.5" x2="397.7" y2="869.9" stroke="#f0621f" stroke-width="4.4" stroke-linecap="butt"/>
<text transform="translate(16.7,648.5)" font-size="20.5" textLength="114.3" lengthAdjust="spacingAndGlyphs">Actinobacteria</text>
<text transform="translate(74.8,753.5)" font-size="20.5" textLength="118.8" lengthAdjust="spacingAndGlyphs">Planctomycete</text>
<text transform="translate(229,876.1)" font-size="20.2" textLength="50.4" lengthAdjust="spacingAndGlyphs">genus</text>
<circle cx="73.8" cy="633.2" r="2.6" fill="#ef4532" stroke="#2747bd" stroke-width="1.5"/>
<circle cx="163.5" cy="748.5" r="2.6" fill="#ef4532" stroke="#2747bd" stroke-width="1.5"/>
<circle cx="252" cy="863.2" r="2.6" fill="#ef4532" stroke="#2747bd" stroke-width="1.5"/>
<circle cx="127.5" cy="550" r="2.6" fill="#ef4532" stroke="#2747bd" stroke-width="1.5"/>
<circle cx="181.7" cy="614" r="2.6" fill="#ef4532" stroke="#2747bd" stroke-width="1.5"/>
<circle cx="235.6" cy="678" r="2.6" fill="#ef4532" stroke="#2747bd" stroke-width="1.5"/>
<circle cx="289.5" cy="742" r="2.6" fill="#ef4532" stroke="#2747bd" stroke-width="1.5"/>
<circle cx="343.6" cy="806" r="2.6" fill="#ef4532" stroke="#2747bd" stroke-width="1.5"/>
<circle cx="397.7" cy="869.9" r="2.6" fill="#ef4532" stroke="#2747bd" stroke-width="1.5"/>
<rect x="732.3" y="524.3" width="57" height="61.7" fill="#c42b2f" stroke="#6e6e6e" stroke-width="0.9"/>
<rect x="789.3" y="524.3" width="57" height="61.7" fill="#ffffff" stroke="#a6a6a6" stroke-width="1"/>
<rect x="846.3" y="524.3" width="57" height="61.7" fill="#ffffff" stroke="#a6a6a6" stroke-width="1"/>
<rect x="903.2" y="524.3" width="57" height="61.7" fill="#ffffff" stroke="#a6a6a6" stroke-width="1"/>
<rect x="960.2" y="524.3" width="57" height="61.7" fill="#ffffff" stroke="#a6a6a6" stroke-width="1"/>
<rect x="1017.2" y="524.3" width="57" height="61.7" fill="#ffffff" stroke="#a6a6a6" stroke-width="1"/>
<rect x="789.3" y="586" width="57" height="61.7" fill="#c42b2f" stroke="#6e6e6e" stroke-width="0.9"/>
<rect x="846.3" y="586" width="57" height="61.7" fill="#ffffff" stroke="#a6a6a6" stroke-width="1"/>
<rect x="903.2" y="586" width="57" height="61.7" fill="#ffffff" stroke="#a6a6a6" stroke-width="1"/>
<rect x="960.2" y="586" width="57" height="61.7" fill="#ffffff" stroke="#a6a6a6" stroke-width="1"/>
<rect x="1017.2" y="586" width="57" height="61.7" fill="#ffffff" stroke="#a6a6a6" stroke-width="1"/>
<rect x="846.3" y="647.7" width="57" height="61.7" fill="#c42b2f" stroke="#6e6e6e" stroke-width="0.9"/>
<rect x="903.2" y="647.7" width="57" height="61.7" fill="#ffffff" stroke="#a6a6a6" stroke-width="1"/>
<rect x="960.2" y="647.7" width="57" height="61.7" fill="#ffffff" stroke="#a6a6a6" stroke-width="1"/>
<rect x="1017.2" y="647.7" width="57" height="61.7" fill="#ffffff" stroke="#a6a6a6" stroke-width="1"/>
<rect x="903.2" y="709.4" width="57" height="61.7" fill="#c42b2f" stroke="#6e6e6e" stroke-width="0.9"/>
<rect x="960.2" y="709.4" width="57" height="61.7" fill="#ffffff" stroke="#a6a6a6" stroke-width="1"/>
<rect x="1017.2" y="709.4" width="57" height="61.7" fill="#ffffff" stroke="#a6a6a6" stroke-width="1"/>
<rect x="960.2" y="771.1" width="57" height="61.7" fill="#c42b2f" stroke="#6e6e6e" stroke-width="0.9"/>
<rect x="1017.2" y="771.1" width="57" height="61.7" fill="#ffffff" stroke="#a6a6a6" stroke-width="1"/>
<rect x="1017.2" y="832.8" width="57" height="61.7" fill="#c42b2f" stroke="#6e6e6e" stroke-width="0.9"/>
<rect x="796" y="532.5" width="42.8" height="45.3" fill="#b0628a" stroke="#474747" stroke-width="1"/>
<rect x="851.3" y="530.1" width="47" height="49.8" fill="#1b7262" stroke="#474747" stroke-width="1"/>
<rect x="908.2" y="530.1" width="46.8" height="49.8" fill="#1d7363" stroke="#474747" stroke-width="1"/>
<rect x="968.2" y="532.7" width="41.2" height="44.9" fill="#227a82" stroke="#474747" stroke-width="1"/>
<rect x="1032.6" y="540.8" width="26.6" height="28.2" fill="#0a84c8" stroke="#474747" stroke-width="1"/>
<rect x="851.3" y="591.7" width="46.5" height="49.8" fill="#1d7262" stroke="#474747" stroke-width="1"/>
<rect x="907" y="590.3" width="49.2" height="52.8" fill="#0f6c4c" stroke="#474747" stroke-width="1"/>
<rect x="964.7" y="591" width="48.2" height="51.7" fill="#1a7159" stroke="#474747" stroke-width="1"/>
<rect x="1023.8" y="592.9" width="44" height="47.5" fill="#1f7572" stroke="#474747" stroke-width="1"/>
<rect x="904" y="648" width="56.2" height="60.5" fill="#c62c30" stroke="#474747" stroke-width="1"/>
<rect x="962" y="648.9" width="54.4" height="59.1" fill="#c43d4a" stroke="#474747" stroke-width="1"/>
<rect x="1025.2" y="656.3" width="41.4" height="44.7" fill="#a8608e" stroke="#474747" stroke-width="1"/>
<rect x="961.8" y="711" width="54.5" height="58.6" fill="#c43d4a" stroke="#474747" stroke-width="1"/>
<rect x="1024" y="716.8" width="43.7" height="46.9" fill="#b05c88" stroke="#474747" stroke-width="1"/>
<rect x="1019.9" y="773.7" width="52.4" height="56.2" fill="#c04458" stroke="#474747" stroke-width="1"/>
<text transform="translate(737.1,561)" font-size="18" textLength="46.2" lengthAdjust="spacingAndGlyphs">Acetic</text>
<text transform="translate(786.6,624.6)" font-size="18" textLength="70.7" lengthAdjust="spacingAndGlyphs">Propionic</text>
<text transform="translate(850.5,682.5)" font-size="18" textLength="45.9" lengthAdjust="spacingAndGlyphs">chao1</text>
<text transform="translate(891.9,743.8)" font-size="18" textLength="70.1" lengthAdjust="spacingAndGlyphs">observed</text>
<text transform="translate(896.9,764.6)" font-size="18" textLength="56.7" lengthAdjust="spacingAndGlyphs">species</text>
<text transform="translate(959.8,805.3)" font-size="18" textLength="65.1" lengthAdjust="spacingAndGlyphs">shannon</text>
<text transform="translate(1011.2,873)" font-size="18" textLength="63.2" lengthAdjust="spacingAndGlyphs">simpson</text>
<line x1="647.1" y1="635.1" x2="703.7" y2="555" stroke="#bfbfbf" stroke-width="1.9" stroke-linecap="round"/>
<line x1="647.1" y1="635.1" x2="817.8" y2="677.8" stroke="#bfbfbf" stroke-width="1.9" stroke-linecap="round"/>
<line x1="647.1" y1="635.1" x2="875" y2="740" stroke="#bfbfbf" stroke-width="1.9" stroke-linecap="round"/>
<line x1="647.1" y1="635.1" x2="932.1" y2="801.5" stroke="#bfbfbf" stroke-width="1.9" stroke-linecap="round"/>
<line x1="647.1" y1="635.1" x2="989.3" y2="863.4" stroke="#bfbfbf" stroke-width="1.9" stroke-linecap="round"/>
<line x1="709.9" y1="710" x2="703.7" y2="555" stroke="#bfbfbf" stroke-width="1.9" stroke-linecap="round"/>
<line x1="709.9" y1="710" x2="817.8" y2="677.8" stroke="#bfbfbf" stroke-width="1.9" stroke-linecap="round"/>
<line x1="709.9" y1="710" x2="875" y2="740" stroke="#bfbfbf" stroke-width="1.9" stroke-linecap="round"/>
<line x1="709.9" y1="710" x2="932.1" y2="801.5" stroke="#bfbfbf" stroke-width="1.9" stroke-linecap="round"/>
<line x1="772.3" y1="783.2" x2="703.7" y2="555" stroke="#bfbfbf" stroke-width="1.9" stroke-linecap="round"/>
<line x1="772.3" y1="783.2" x2="760.7" y2="616.8" stroke="#bfbfbf" stroke-width="1.9" stroke-linecap="round"/>
<line x1="772.3" y1="783.2" x2="817.8" y2="677.8" stroke="#bfbfbf" stroke-width="1.9" stroke-linecap="round"/>
<line x1="772.3" y1="783.2" x2="875" y2="740" stroke="#bfbfbf" stroke-width="1.9" stroke-linecap="round"/>
<line x1="772.3" y1="783.2" x2="932.1" y2="801.5" stroke="#bfbfbf" stroke-width="1.9" stroke-linecap="round"/>
<line x1="772.3" y1="783.2" x2="989.3" y2="863.4" stroke="#bfbfbf" stroke-width="1.9" stroke-linecap="round"/>
<line x1="835.4" y1="857.1" x2="703.7" y2="555" stroke="#bfbfbf" stroke-width="1.9" stroke-linecap="round"/>
<line x1="835.4" y1="857.1" x2="817.8" y2="677.8" stroke="#bfbfbf" stroke-width="1.9" stroke-linecap="round"/>
<line x1="835.4" y1="857.1" x2="875" y2="740" stroke="#bfbfbf" stroke-width="1.9" stroke-linecap="round"/>
<line x1="835.4" y1="857.1" x2="932.1" y2="801.5" stroke="#bfbfbf" stroke-width="1.9" stroke-linecap="round"/>
<line x1="835.4" y1="857.1" x2="989.3" y2="863.4" stroke="#bfbfbf" stroke-width="1.9" stroke-linecap="round"/>
<line x1="647.1" y1="635.1" x2="760.7" y2="616.8" stroke="#11926f" stroke-width="4.4" stroke-linecap="butt"/>
<line x1="709.9" y1="710" x2="760.7" y2="616.8" stroke="#11926f" stroke-width="4.4" stroke-linecap="butt"/>
<line x1="709.9" y1="710" x2="989.3" y2="863.4" stroke="#11926f" stroke-width="4.4" stroke-linecap="butt"/>
<line x1="835.4" y1="857.1" x2="760.7" y2="616.8" stroke="#f0621f" stroke-width="4.4" stroke-linecap="butt"/>
<text transform="translate(578.6,647.9)" font-size="21.3" textLength="131.8" lengthAdjust="spacingAndGlyphs">Actinobacteria</text>
<text transform="translate(619.4,712.7)" font-size="21" textLength="128.2" lengthAdjust="spacingAndGlyphs">Bacteroidetes</text>
<text transform="translate(688.1,798)" font-size="22.4" textLength="152.7" lengthAdjust="spacingAndGlyphs">Kiritimatiellaeota</text>
<text transform="translate(809.4,872.1)" font-size="21" textLength="57.5" lengthAdjust="spacingAndGlyphs">genus</text>
<circle cx="647.1" cy="635.1" r="2.6" fill="#ef4532" stroke="#2747bd" stroke-width="1.5"/>
<circle cx="709.9" cy="710" r="2.6" fill="#ef4532" stroke="#2747bd" stroke-width="1.5"/>
<circle cx="772.3" cy="783.2" r="2.6" fill="#ef4532" stroke="#2747bd" stroke-width="1.5"/>
<circle cx="835.4" cy="857.1" r="2.6" fill="#ef4532" stroke="#2747bd" stroke-width="1.5"/>
<circle cx="703.7" cy="555" r="2.6" fill="#ef4532" stroke="#2747bd" stroke-width="1.5"/>
<circle cx="760.7" cy="616.8" r="2.6" fill="#ef4532" stroke="#2747bd" stroke-width="1.5"/>
<circle cx="817.8" cy="677.8" r="2.6" fill="#ef4532" stroke="#2747bd" stroke-width="1.5"/>
<circle cx="875" cy="740" r="2.6" fill="#ef4532" stroke="#2747bd" stroke-width="1.5"/>
<circle cx="932.1" cy="801.5" r="2.6" fill="#ef4532" stroke="#2747bd" stroke-width="1.5"/>
<circle cx="989.3" cy="863.4" r="2.6" fill="#ef4532" stroke="#2747bd" stroke-width="1.5"/>
<rect x="1332.8" y="537.6" width="55.9" height="61" fill="#c42b2f" stroke="#6e6e6e" stroke-width="0.9"/>
<rect x="1388.7" y="537.6" width="55.9" height="61" fill="#ffffff" stroke="#a6a6a6" stroke-width="1"/>
<rect x="1444.6" y="537.6" width="55.9" height="61" fill="#ffffff" stroke="#a6a6a6" stroke-width="1"/>
<rect x="1500.6" y="537.6" width="55.9" height="61" fill="#ffffff" stroke="#a6a6a6" stroke-width="1"/>
<rect x="1556.5" y="537.6" width="55.9" height="61" fill="#ffffff" stroke="#a6a6a6" stroke-width="1"/>
<rect x="1612.4" y="537.6" width="55.9" height="61" fill="#ffffff" stroke="#a6a6a6" stroke-width="1"/>
<rect x="1388.7" y="598.6" width="55.9" height="61" fill="#c42b2f" stroke="#6e6e6e" stroke-width="0.9"/>
<rect x="1444.6" y="598.6" width="55.9" height="61" fill="#ffffff" stroke="#a6a6a6" stroke-width="1"/>
<rect x="1500.6" y="598.6" width="55.9" height="61" fill="#ffffff" stroke="#a6a6a6" stroke-width="1"/>
<rect x="1556.5" y="598.6" width="55.9" height="61" fill="#ffffff" stroke="#a6a6a6" stroke-width="1"/>
<rect x="1612.4" y="598.6" width="55.9" height="61" fill="#ffffff" stroke="#a6a6a6" stroke-width="1"/>
<rect x="1444.6" y="659.7" width="55.9" height="61" fill="#c42b2f" stroke="#6e6e6e" stroke-width="0.9"/>
<rect x="1500.6" y="659.7" width="55.9" height="61" fill="#ffffff" stroke="#a6a6a6" stroke-width="1"/>
<rect x="1556.5" y="659.7" width="55.9" height="61" fill="#ffffff" stroke="#a6a6a6" stroke-width="1"/>
<rect x="1612.4" y="659.7" width="55.9" height="61" fill="#ffffff" stroke="#a6a6a6" stroke-width="1"/>
<rect x="1500.6" y="720.7" width="55.9" height="61" fill="#c42b2f" stroke="#6e6e6e" stroke-width="0.9"/>
<rect x="1556.5" y="720.7" width="55.9" height="61" fill="#ffffff" stroke="#a6a6a6" stroke-width="1"/>
<rect x="1612.4" y="720.7" width="55.9" height="61" fill="#ffffff" stroke="#a6a6a6" stroke-width="1"/>
<rect x="1556.5" y="781.7" width="55.9" height="61" fill="#c42b2f" stroke="#6e6e6e" stroke-width="0.9"/>
<rect x="1612.4" y="781.7" width="55.9" height="61" fill="#ffffff" stroke="#a6a6a6" stroke-width="1"/>
<rect x="1612.4" y="842.8" width="55.9" height="61" fill="#c42b2f" stroke="#6e6e6e" stroke-width="0.9"/>
<rect x="1392.8" y="542" width="48" height="51.9" fill="#b85068" stroke="#474747" stroke-width="1"/>
<rect x="1457.3" y="552" width="30.2" height="32.4" fill="#0a84c0" stroke="#474747" stroke-width="1"/>
<rect x="1511.8" y="549.8" width="33.5" height="36.3" fill="#1880a8" stroke="#474747" stroke-width="1"/>
<rect x="1579" y="562.5" width="10.4" height="11.1" fill="#1888d0" stroke="#474747" stroke-width="1"/>
<rect x="1624.7" y="550.9" width="31.5" height="34.6" fill="#8c70b8" stroke="#474747" stroke-width="1"/>
<rect x="1451.2" y="606" width="43" height="46.7" fill="#1e7570" stroke="#474747" stroke-width="1"/>
<rect x="1506.3" y="604.9" width="44.5" height="48.5" fill="#1a7464" stroke="#474747" stroke-width="1"/>
<rect x="1579" y="623.6" width="10.4" height="11" fill="#1888d0" stroke="#474747" stroke-width="1"/>
<rect x="1619.2" y="606" width="42.5" height="46.7" fill="#b05880" stroke="#474747" stroke-width="1"/>
<rect x="1501.3" y="660" width="54.8" height="60.5" fill="#c52c30" stroke="#474747" stroke-width="1"/>
<rect x="1561.8" y="665.5" width="45.2" height="49.6" fill="#b85270" stroke="#474747" stroke-width="1"/>
<rect x="1629.3" y="678.3" width="22" height="24" fill="#5878c0" stroke="#474747" stroke-width="1"/>
<rect x="1561.3" y="726.2" width="46.4" height="50.7" fill="#b85270" stroke="#474747" stroke-width="1"/>
<rect x="1628.2" y="738.8" width="23.5" height="25.6" fill="#6480c8" stroke="#474747" stroke-width="1"/>
<rect x="1614.5" y="784.9" width="51.4" height="55.9" fill="#c04458" stroke="#474747" stroke-width="1"/>
<text transform="translate(1336.9,571.4)" font-size="18.8" textLength="49.6" lengthAdjust="spacingAndGlyphs">Acetic</text>
<text transform="translate(1386.5,632.9)" font-size="18.8" textLength="77.6" lengthAdjust="spacingAndGlyphs">Propionic</text>
<text transform="translate(1447.9,693)" font-size="18.8" textLength="49.2" lengthAdjust="spacingAndGlyphs">chao1</text>
<text transform="translate(1491.3,755.5)" font-size="18.8" textLength="75.5" lengthAdjust="spacingAndGlyphs">observed</text>
<text transform="translate(1496.9,776.4)" font-size="18.8" textLength="61.6" lengthAdjust="spacingAndGlyphs">species</text>
<text transform="translate(1554.4,818.7)" font-size="18.8" textLength="70.3" lengthAdjust="spacingAndGlyphs">shannon</text>
<text transform="translate(1608.8,879.6)" font-size="18.8" textLength="59.6" lengthAdjust="spacingAndGlyphs">simpson</text>
<line x1="1249.5" y1="647.3" x2="1305.4" y2="567.6" stroke="#bfbfbf" stroke-width="1.9" stroke-linecap="round"/>
<line x1="1249.5" y1="647.3" x2="1417.2" y2="690.1" stroke="#bfbfbf" stroke-width="1.9" stroke-linecap="round"/>
<line x1="1249.5" y1="647.3" x2="1473" y2="751.3" stroke="#bfbfbf" stroke-width="1.9" stroke-linecap="round"/>
<line x1="1249.5" y1="647.3" x2="1528.9" y2="812.3" stroke="#bfbfbf" stroke-width="1.9" stroke-linecap="round"/>
<line x1="1249.5" y1="647.3" x2="1584.8" y2="873.9" stroke="#bfbfbf" stroke-width="1.9" stroke-linecap="round"/>
<line x1="1342" y1="757.6" x2="1305.4" y2="567.6" stroke="#bfbfbf" stroke-width="1.9" stroke-linecap="round"/>
<line x1="1342" y1="757.6" x2="1361.6" y2="629" stroke="#c8c8c8" stroke-width="5" stroke-linecap="round"/>
<line x1="1342" y1="757.6" x2="1528.9" y2="812.3" stroke="#bfbfbf" stroke-width="1.9" stroke-linecap="round"/>
<line x1="1342" y1="757.6" x2="1584.8" y2="873.9" stroke="#bfbfbf" stroke-width="1.9" stroke-linecap="round"/>
<line x1="1434.1" y1="867.8" x2="1305.4" y2="567.6" stroke="#bfbfbf" stroke-width="1.9" stroke-linecap="round"/>
<line x1="1434.1" y1="867.8" x2="1361.6" y2="629" stroke="#c8c8c8" stroke-width="5" stroke-linecap="round"/>
<line x1="1434.1" y1="867.8" x2="1528.9" y2="812.3" stroke="#bfbfbf" stroke-width="1.9" stroke-linecap="round"/>
<line x1="1434.1" y1="867.8" x2="1584.8" y2="873.9" stroke="#bfbfbf" stroke-width="1.9" stroke-linecap="round"/>
<line x1="1249.5" y1="647.3" x2="1361.6" y2="629" stroke="#11926f" stroke-width="4.4" stroke-linecap="butt"/>
<line x1="1342" y1="757.6" x2="1417.2" y2="690.1" stroke="#f0621f" stroke-width="9" stroke-linecap="butt"/>
<line x1="1342" y1="757.6" x2="1473" y2="751.3" stroke="#f0621f" stroke-width="9" stroke-linecap="butt"/>
<line x1="1434.1" y1="867.8" x2="1417.2" y2="690.1" stroke="#f0621f" stroke-width="9" stroke-linecap="butt"/>
<line x1="1434.1" y1="867.8" x2="1473" y2="751.3" stroke="#f0621f" stroke-width="9" stroke-linecap="butt"/>
<text transform="translate(1184.7,662.1)" font-size="21.2" textLength="124.7" lengthAdjust="spacingAndGlyphs">Bacteroidetes</text>
<text transform="translate(1280.8,768)" font-size="21.3" textLength="95.3" lengthAdjust="spacingAndGlyphs">Firmicutes</text>
<text transform="translate(1401.5,871.4)" font-size="21.2" textLength="56.1" lengthAdjust="spacingAndGlyphs">genus</text>
<circle cx="1249.5" cy="647.3" r="2.6" fill="#ef4532" stroke="#2747bd" stroke-width="1.5"/>
<circle cx="1342" cy="757.6" r="2.6" fill="#ef4532" stroke="#2747bd" stroke-width="1.5"/>
<circle cx="1434.1" cy="867.8" r="2.6" fill="#ef4532" stroke="#2747bd" stroke-width="1.5"/>
<circle cx="1305.4" cy="567.6" r="2.6" fill="#ef4532" stroke="#2747bd" stroke-width="1.5"/>
<circle cx="1361.6" cy="629" r="2.6" fill="#ef4532" stroke="#2747bd" stroke-width="1.5"/>
<circle cx="1417.2" cy="690.1" r="2.6" fill="#ef4532" stroke="#2747bd" stroke-width="1.5"/>
<circle cx="1473" cy="751.3" r="2.6" fill="#ef4532" stroke="#2747bd" stroke-width="1.5"/>
<circle cx="1528.9" cy="812.3" r="2.6" fill="#ef4532" stroke="#2747bd" stroke-width="1.5"/>
<circle cx="1584.8" cy="873.9" r="2.6" fill="#ef4532" stroke="#2747bd" stroke-width="1.5"/>
<text transform="translate(493.4,598.9) scale(1.000,1.160)" font-size="13.6" textLength="59.4" lengthAdjust="spacingAndGlyphs">Mantel's P</text>
<rect x="493.4" y="605.7" width="12.8" height="44.7" fill="#ebebeb"/>
<line x1="494.6" y1="613.2" x2="505" y2="613.2" stroke="#f0621f" stroke-width="2.2"/>
<line x1="494.6" y1="628.1" x2="505" y2="628.1" stroke="#11926f" stroke-width="2.2"/>
<line x1="494.6" y1="643" x2="505" y2="643" stroke="#bdbdbd" stroke-width="2.2"/>
<text transform="translate(509.8,616.3) scale(1.000,1.160)" font-size="12.2" textLength="59.3" lengthAdjust="spacingAndGlyphs">0.001−0.01</text>
<text transform="translate(509.8,631.1) scale(1.000,1.160)" font-size="12.2" textLength="54" lengthAdjust="spacingAndGlyphs">0.01−0.05</text>
<text transform="translate(509.8,646.1) scale(1.000,1.160)" font-size="12.2" textLength="38" lengthAdjust="spacingAndGlyphs">&gt;=0.05</text>
<text transform="translate(493.4,675.8) scale(1.000,1.160)" font-size="13.6" textLength="66.8" lengthAdjust="spacingAndGlyphs">Person's R</text>
<defs><linearGradient id="cb1" x1="0" y1="0" x2="0" y2="1"><stop offset="0.0000" stop-color="#c62b36"/><stop offset="0.2732" stop-color="#b24c78"/><stop offset="0.4098" stop-color="#8c62ae"/><stop offset="0.5464" stop-color="#0b8bd0"/><stop offset="0.8197" stop-color="#1f7a80"/><stop offset="1.0929" stop-color="#0a6a48"/></linearGradient></defs>
<rect x="493.4" y="686.1" width="12.8" height="78.1" fill="url(#cb1)"/>
<line x1="493.4" y1="707" x2="496" y2="707" stroke="#fff" stroke-width="1.2"/>
<line x1="503.6" y1="707" x2="506.2" y2="707" stroke="#fff" stroke-width="1.2"/>
<line x1="493.4" y1="727.8" x2="496" y2="727.8" stroke="#fff" stroke-width="1.2"/>
<line x1="503.6" y1="727.8" x2="506.2" y2="727.8" stroke="#fff" stroke-width="1.2"/>
<line x1="493.4" y1="750.2" x2="496" y2="750.2" stroke="#fff" stroke-width="1.2"/>
<line x1="503.6" y1="750.2" x2="506.2" y2="750.2" stroke="#fff" stroke-width="1.2"/>
<text transform="translate(509.8,690.1) scale(1.000,1.160)" font-size="12.6">1.0</text>
<text transform="translate(509.8,711.4) scale(1.000,1.160)" font-size="12.6">0.5</text>
<text transform="translate(509.8,732.3) scale(1.000,1.160)" font-size="12.6">0.0</text>
<text transform="translate(509.2,754.6) scale(1.000,1.160)" font-size="12.6">−0.5</text>
<text transform="translate(493.4,792.9) scale(1.000,1.160)" font-size="13.6" textLength="64.4" lengthAdjust="spacingAndGlyphs">Mantel's R</text>
<rect x="493.4" y="797.8" width="12.8" height="28.3" fill="#ebebeb"/>
<line x1="494.6" y1="806.7" x2="505" y2="806.7" stroke="#555555" stroke-width="2"/>
<line x1="494.6" y1="821.6" x2="505" y2="821.6" stroke="#555555" stroke-width="4"/>
<text transform="translate(509.8,810.6) scale(1.000,1.160)" font-size="12.2" textLength="31" lengthAdjust="spacingAndGlyphs">&lt;0.25</text>
<text transform="translate(509.8,825.4) scale(1.000,1.160)" font-size="12.2" textLength="30.8" lengthAdjust="spacingAndGlyphs">&gt;=0.5</text>
<text transform="translate(1091.9,592.3)" font-size="15.4" textLength="74.3" lengthAdjust="spacingAndGlyphs">Mantel's P</text>
<rect x="1092.5" y="599.8" width="13.7" height="13.4" fill="#f0621f"/>
<rect x="1092.5" y="616.2" width="13.7" height="13.4" fill="#139a72"/>
<rect x="1092.5" y="632.5" width="13.7" height="14.3" fill="#bdbdbd"/>
<text transform="translate(1111.3,610.3)" font-size="13.6" textLength="66.8" lengthAdjust="spacingAndGlyphs">0.001−0.01</text>
<text transform="translate(1111.3,626.7)" font-size="13.6" textLength="60.8" lengthAdjust="spacingAndGlyphs">0.01−0.05</text>
<text transform="translate(1111.3,642.5)" font-size="13.6" textLength="41.5" lengthAdjust="spacingAndGlyphs">&gt;=0.05</text>
<text transform="translate(1091.9,677.3)" font-size="15.4" textLength="74.3" lengthAdjust="spacingAndGlyphs">Mantel's R</text>
<rect x="1092.5" y="684.7" width="13.7" height="31.2" fill="#ebebeb"/>
<line x1="1093.6" y1="692.1" x2="1105.2" y2="692.1" stroke="#555555" stroke-width="2.4"/>
<line x1="1093.6" y1="708.5" x2="1105.2" y2="708.5" stroke="#555555" stroke-width="4.4"/>
<text transform="translate(1111.3,695.1)" font-size="13.6" textLength="35.5" lengthAdjust="spacingAndGlyphs">&lt;0.25</text>
<text transform="translate(1111.3,711.6)" font-size="13.6" textLength="53.4" lengthAdjust="spacingAndGlyphs">0.25−0.5</text>
<text transform="translate(1091.9,746.4)" font-size="15.4" textLength="83.8" lengthAdjust="spacingAndGlyphs">Pearson's R</text>
<defs><linearGradient id="cb2" x1="0" y1="0" x2="0" y2="1"><stop offset="0.0000" stop-color="#c62b36"/><stop offset="0.2717" stop-color="#b24c78"/><stop offset="0.4076" stop-color="#8c62ae"/><stop offset="0.5435" stop-color="#0b8bd0"/><stop offset="0.8152" stop-color="#1f7a80"/><stop offset="1.0870" stop-color="#0a6a48"/></linearGradient></defs>
<rect x="1092.5" y="753.1" width="13.7" height="81.9" fill="url(#cb2)"/>
<line x1="1092.5" y1="777.4" x2="1095.1" y2="777.4" stroke="#fff" stroke-width="1.2"/>
<line x1="1103.6" y1="777.4" x2="1106.2" y2="777.4" stroke="#fff" stroke-width="1.2"/>
<line x1="1092.5" y1="799.7" x2="1095.1" y2="799.7" stroke="#fff" stroke-width="1.2"/>
<line x1="1103.6" y1="799.7" x2="1106.2" y2="799.7" stroke="#fff" stroke-width="1.2"/>
<line x1="1092.5" y1="822" x2="1095.1" y2="822" stroke="#fff" stroke-width="1.2"/>
<line x1="1103.6" y1="822" x2="1106.2" y2="822" stroke="#fff" stroke-width="1.2"/>
<text transform="translate(1109.3,760.6)" font-size="14">1.0</text>
<text transform="translate(1109.3,782)" font-size="14">0.5</text>
<text transform="translate(1109.3,804.2)" font-size="14">0.0</text>
<text transform="translate(1108.6,827.4)" font-size="14">−0.5</text>
<text transform="translate(1686.6,596.3)" font-size="14.8" textLength="69.5" lengthAdjust="spacingAndGlyphs">Mantel's P</text>
<rect x="1686.6" y="605.2" width="12.8" height="12.8" fill="#f0621f"/>
<rect x="1686.6" y="620.5" width="12.8" height="12.8" fill="#139a72"/>
<rect x="1686.6" y="636.5" width="12.8" height="13.5" fill="#bdbdbd"/>
<text transform="translate(1704.5,614.9)" font-size="13" textLength="62.8" lengthAdjust="spacingAndGlyphs">0.001−0.01</text>
<text transform="translate(1704.5,630.9)" font-size="13" textLength="59.6" lengthAdjust="spacingAndGlyphs">0.01−0.05</text>
<text transform="translate(1704.5,646.9)" font-size="13" textLength="42" lengthAdjust="spacingAndGlyphs">&gt;=0.05</text>
<text transform="translate(1686.6,682.7)" font-size="14.8" textLength="71.2" lengthAdjust="spacingAndGlyphs">Mantel's R</text>
<rect x="1686.6" y="688.3" width="12.8" height="48" fill="#ebebeb"/>
<line x1="1687.6" y1="695.4" x2="1698.4" y2="695.4" stroke="#555555" stroke-width="2.2"/>
<line x1="1687.6" y1="710.7" x2="1698.4" y2="710.7" stroke="#555555" stroke-width="4"/>
<line x1="1687.6" y1="728.3" x2="1698.4" y2="728.3" stroke="#555555" stroke-width="7"/>
<text transform="translate(1704.5,698.7)" font-size="13" textLength="34.1" lengthAdjust="spacingAndGlyphs">&lt;0.25</text>
<text transform="translate(1704.5,714)" font-size="13" textLength="58" lengthAdjust="spacingAndGlyphs">0.25−0.5</text>
<text transform="translate(1704.5,731.6)" font-size="13" textLength="34.1" lengthAdjust="spacingAndGlyphs">&gt;=0.5</text>
<text transform="translate(1686.6,770)" font-size="14.8" textLength="79.1" lengthAdjust="spacingAndGlyphs">Pearson's R</text>
<defs><linearGradient id="cb3" x1="0" y1="0" x2="0" y2="1"><stop offset="0.0000" stop-color="#c62b36"/><stop offset="0.3030" stop-color="#b24c78"/><stop offset="0.4545" stop-color="#8c62ae"/><stop offset="0.6061" stop-color="#0b8bd0"/><stop offset="0.9091" stop-color="#1f7a80"/><stop offset="1.2121" stop-color="#0a6a48"/></linearGradient></defs>
<rect x="1685.5" y="773.4" width="14.1" height="81.6" fill="url(#cb3)"/>
<line x1="1685.5" y1="798.3" x2="1688.1" y2="798.3" stroke="#fff" stroke-width="1.2"/>
<line x1="1697" y1="798.3" x2="1699.6" y2="798.3" stroke="#fff" stroke-width="1.2"/>
<line x1="1685.5" y1="822.9" x2="1688.1" y2="822.9" stroke="#fff" stroke-width="1.2"/>
<line x1="1697" y1="822.9" x2="1699.6" y2="822.9" stroke="#fff" stroke-width="1.2"/>
<line x1="1685.5" y1="848.5" x2="1688.1" y2="848.5" stroke="#fff" stroke-width="1.2"/>
<line x1="1697" y1="848.5" x2="1699.6" y2="848.5" stroke="#fff" stroke-width="1.2"/>
<text transform="translate(1703,782.1)" font-size="13.4">1.0</text>
<text transform="translate(1703,802.3)" font-size="13.4">0.5</text>
<text transform="translate(1703,827)" font-size="13.4">0.0</text>
<text transform="translate(1702.4,850.2)" font-size="13.4">−0.5</text>
</svg>
</body></html>
